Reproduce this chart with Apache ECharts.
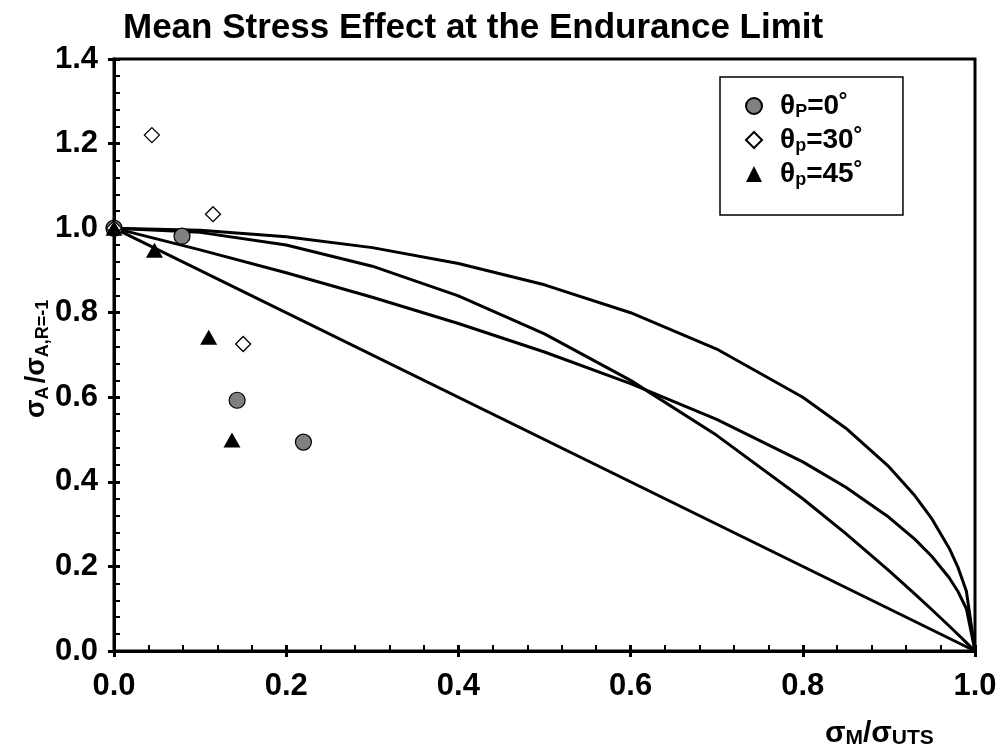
<!DOCTYPE html>
<html>
<head>
<meta charset="utf-8">
<script src="https://cdn.jsdelivr.net/npm/echarts@6/dist/echarts.min.js"></script>
<style>
  html, body { margin: 0; padding: 0; background: #fff; }
  #chart { width: 1001px; height: 753px; }
</style>
</head>
<body>
<div id="chart"></div>
<script>
// Normalised mean stress (sigma_M / sigma_UTS) used by the model curves
const meanRatio = [0, 0.1, 0.2, 0.3, 0.4, 0.5, 0.6, 0.7, 0.8, 0.85, 0.9, 0.93, 0.95, 0.97, 0.98, 0.99, 1.0];

// Model curves: normalised amplitude at each mean ratio
const ellipseAmp  = [1, 0.995, 0.9798, 0.9539, 0.9165, 0.866, 0.8, 0.7141, 0.6, 0.5268, 0.4359, 0.3676, 0.3122, 0.2431, 0.199, 0.1411, 0];
const gerberAmp   = [1, 0.99, 0.96, 0.91, 0.84, 0.75, 0.64, 0.51, 0.36, 0.2775, 0.19, 0.1351, 0.0975, 0.0591, 0.0396, 0.0199, 0];
const dietmannAmp = [1, 0.9487, 0.8944, 0.8367, 0.7746, 0.7071, 0.6325, 0.5477, 0.4472, 0.3873, 0.3162, 0.2646, 0.2236, 0.1732, 0.1414, 0.1, 0];
const goodmanMean = [0, 1.0];
const goodmanAmp  = [1, 0];

// Test results for each principal orientation
const p0Mean  = [0, 0.079, 0.143, 0.220];
const p0Amp   = [1.0, 0.981, 0.593, 0.494];
const p30Mean = [0, 0.044, 0.115, 0.150];
const p30Amp  = [1.0, 1.220, 1.033, 0.726];
const p45Mean = [0, 0.047, 0.110, 0.137];
const p45Amp  = [1.0, 0.948, 0.742, 0.499];

const xTicks = { min: 0, max: 1.0, step: 0.2 };
const yTicks = { min: 0, max: 1.4, step: 0.2 };

const FONT = '"Liberation Sans", Arial, Helvetica, sans-serif';

function pairs(xs, ys) { return xs.map((x, i) => [x, ys[i]]); }

function curve(name, xs, ys) {
  return {
    name: name, type: 'line', data: pairs(xs, ys), showSymbol: false, silent: true,
    lineStyle: { color: '#000', width: 3 }, z: 2
  };
}

const tickLabel = {
  color: '#000', fontFamily: FONT, fontWeight: 'bold', fontSize: 31,
  formatter: v => v.toFixed(1)
};

function axisPair(dim, t) {
  const main = {
    type: 'value', min: t.min, max: t.max, interval: t.step,
    axisLine: { show: true, onZero: false, lineStyle: { color: '#000', width: 3 } },
    axisTick: { show: true, inside: false, length: 6, lineStyle: { color: '#000', width: 3 } },
    minorTick: { show: false },
    splitLine: { show: false },
    axisLabel: Object.assign({ margin: dim === 'x' ? 20 : 16 }, tickLabel)
  };
  const inner = {
    type: 'value', min: t.min, max: t.max, interval: t.step,
    axisLine: { show: false },
    axisTick: { show: true, inside: true, length: 6, lineStyle: { color: '#000', width: 3 } },
    minorTick: { show: true, splitNumber: 5, length: 6, lineStyle: { color: '#000', width: 2 } },
    splitLine: { show: false },
    axisLabel: { show: false }
  };
  main.position = inner.position = (dim === 'x') ? 'bottom' : 'left';
  return [main, inner];
}

const legendLabels = {
  'θP=0˚':  '{a|θ}{s|P}{a|=0˚}',
  'θp=30˚': '{a|θ}{s|p}{a|=30˚}',
  'θp=45˚': '{a|θ}{s|p}{a|=45˚}'
};

const chart = echarts.init(document.getElementById('chart'), null, { renderer: 'canvas' });

chart.setOption({
  backgroundColor: '#fff',
  animation: false,
  title: {
    text: 'Mean Stress Effect at the Endurance Limit',
    left: 118, top: 6,
    textStyle: { fontFamily: FONT, fontWeight: 'bold', fontSize: 35, color: '#000' }
  },
  grid: {
    left: 114, right: 26, top: 59, bottom: 102,
    show: true, borderColor: '#000', borderWidth: 3, backgroundColor: 'transparent'
  },
  xAxis: axisPair('x', xTicks),
  yAxis: axisPair('y', yTicks),
  legend: {
    orient: 'vertical', left: 720, top: 77,
    padding: [15, 40, 26, 25],
    itemWidth: 16, itemHeight: 16, itemGap: 5,
    backgroundColor: '#fff', borderColor: '#000', borderWidth: 1.5,
    data: ['θP=0˚', 'θp=30˚', 'θp=45˚'],
    formatter: name => legendLabels[name],
    textStyle: {
      padding: [0, 0, 0, 13],
      rich: {
        a: { fontFamily: FONT, fontWeight: 'bold', fontSize: 28, color: '#000', lineHeight: 30, verticalAlign: 'middle' },
        s: { fontFamily: FONT, fontWeight: 'bold', fontSize: 18, color: '#000', lineHeight: 15, verticalAlign: 'bottom' }
      }
    }
  },
  graphic: [
    {
      type: 'text', left: 825, top: 719, silent: true,
      style: {
        text: '{a|σ}{s|M}{a|/σ}{s|UTS}',
        rich: {
          a: { fontFamily: FONT, fontWeight: 'bold', fontSize: 30, fill: '#000', lineHeight: 30, verticalAlign: 'middle' },
          s: { fontFamily: FONT, fontWeight: 'bold', fontSize: 21, fill: '#000', lineHeight: 17, verticalAlign: 'bottom' }
        }
      }
    },
    {
      type: 'text', x: 22, y: 418, rotation: Math.PI / 2, silent: true,
      style: {
        text: '{a|σ}{s|A} {a|/σ}{s|A,R=-1}',
        rich: {
          a: { fontFamily: FONT, fontWeight: 'bold', fontSize: 27, fill: '#000', lineHeight: 30, verticalAlign: 'middle' },
          s: { fontFamily: FONT, fontWeight: 'bold', fontSize: 18, fill: '#000', lineHeight: 16, verticalAlign: 'bottom' }
        }
      }
    }
  ],
  series: [
    curve('Ellipse', meanRatio, ellipseAmp),
    curve('Gerber', meanRatio, gerberAmp),
    curve('Dietmann', meanRatio, dietmannAmp),
    curve('Goodman', goodmanMean, goodmanAmp),
    {
      name: 'θP=0˚', type: 'scatter', data: pairs(p0Mean, p0Amp),
      symbol: 'circle', symbolSize: 16, z: 3,
      itemStyle: { color: '#808080', borderColor: '#000', borderWidth: 1.2, opacity: 1 }
    },
    {
      name: 'θp=30˚', type: 'scatter', data: pairs(p30Mean, p30Amp),
      symbol: 'diamond', symbolSize: 15, z: 3,
      itemStyle: { color: '#fff', borderColor: '#000', borderWidth: 1.3, opacity: 1 }
    },
    {
      name: 'θp=45˚', type: 'scatter', data: pairs(p45Mean, p45Amp),
      symbol: 'triangle', symbolSize: [17, 15], z: 3,
      itemStyle: { color: '#000', opacity: 1 }
    }
  ]
});
</script>
</body>
</html>
